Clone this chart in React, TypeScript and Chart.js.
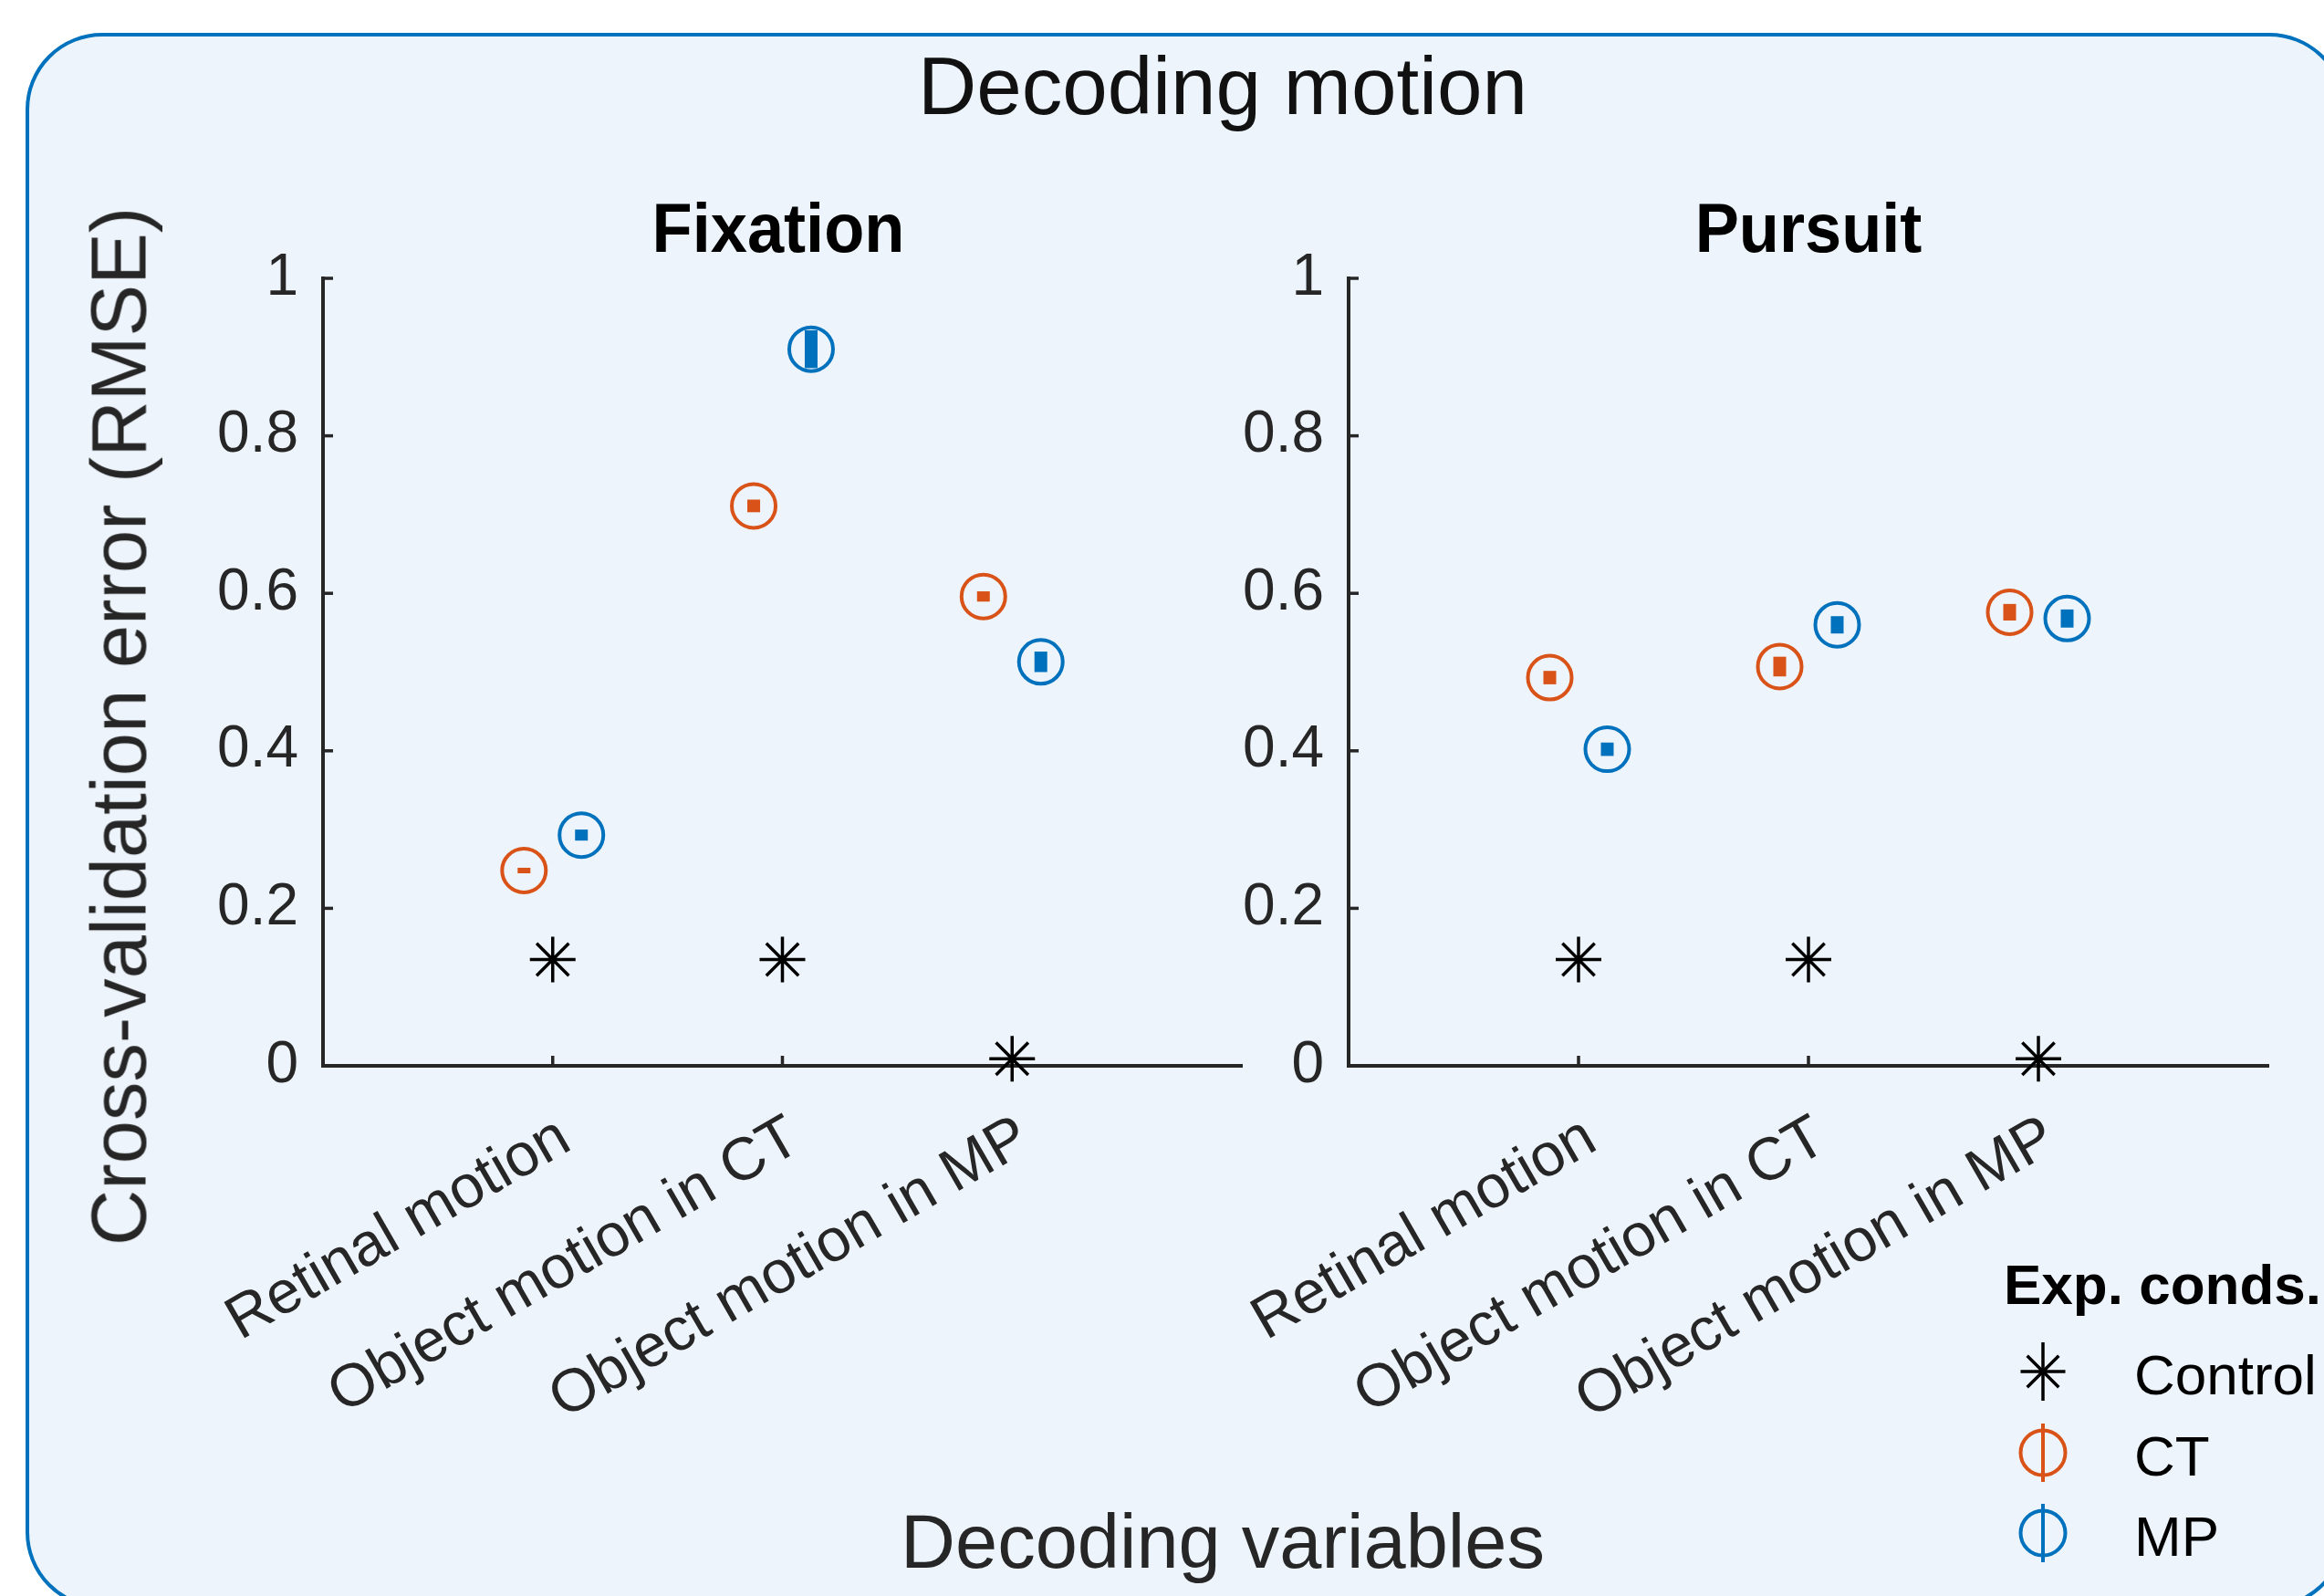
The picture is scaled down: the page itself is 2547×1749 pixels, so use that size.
import React, { useEffect, useRef } from 'react';
import { Chart, registerables } from 'chart.js';

Chart.register(...registerables);

// ---------------- data ----------------
const categories = ['Retinal motion', 'Object motion in CT', 'Object motion in MP'];
const categoryPositions = [1, 2, 3];
const yTickValues = [0, 0.2, 0.4, 0.6, 0.8, 1];
const conditionLabels = ['Control', 'CT', 'MP'];
const legendTitle = 'Exp. conds.';
const groupOffset = 0.125;

const fixationControl = [0.135, 0.135, 0.009];
const fixationCT = [0.248, 0.711, 0.596];
const fixationCTErr = [0.0035, 0.008, 0.0065];
const fixationMP = [0.293, 0.910, 0.513];
const fixationMPErr = [0.007, 0.024, 0.013];

const pursuitControl = [0.135, 0.135, 0.009];
const pursuitCT = [0.493, 0.507, 0.576];
const pursuitCTErr = [0.0085, 0.0125, 0.0105];
const pursuitMP = [0.402, 0.560, 0.568];
const pursuitMPErr = [0.0085, 0.011, 0.0115];

// ---------------- style ----------------
const FONT = '"Liberation Sans", Arial, Helvetica, sans-serif';
const INK = '#262626';
const ORANGE = '#D95319';
const BLUE = '#0072BD';
const BG = '#EEF4FB';
const Y_TICK_FONT = 64;
const X_TICK_FONT = 66;

function makeDatasets(control: number[], ct: number[], ctErr: number[], mp: number[], mpErr: number[]) {
  return [
    {
      label: conditionLabels[0],
      data: control.map((v, i) => ({ x: categoryPositions[i], y: v })),
      pointStyle: 'star',
      pointRadius: 25,
      pointBorderWidth: 3.5,
      pointBorderColor: '#000000',
      pointBackgroundColor: '#000000',
      borderColor: '#000000',
      showLine: false,
      clip: false,
    },
    {
      label: conditionLabels[1],
      data: ct.map((v, i) => ({ x: categoryPositions[i] - groupOffset, y: v })),
      errors: ctErr,
      pointStyle: 'circle',
      pointRadius: 24,
      pointBorderWidth: 4,
      pointBorderColor: ORANGE,
      pointBackgroundColor: 'rgba(0,0,0,0)',
      borderColor: ORANGE,
      showLine: false,
      clip: false,
    },
    {
      label: conditionLabels[2],
      data: mp.map((v, i) => ({ x: categoryPositions[i] + groupOffset, y: v })),
      errors: mpErr,
      pointStyle: 'circle',
      pointRadius: 24,
      pointBorderWidth: 4,
      pointBorderColor: BLUE,
      pointBackgroundColor: 'rgba(0,0,0,0)',
      borderColor: BLUE,
      showLine: false,
      clip: false,
    },
  ];
}

const errorBarPlugin = {
  id: 'errorBars',
  afterDatasetsDraw(chart: any) {
    const { ctx } = chart;
    const yScale = chart.scales.y;
    chart.data.datasets.forEach((ds: any, di: number) => {
      if (!ds.errors) return;
      const meta = chart.getDatasetMeta(di);
      meta.data.forEach((pt: any, i: number) => {
        const v = ds.data[i].y;
        const e = ds.errors[i];
        const top = yScale.getPixelForValue(v + e);
        const bot = yScale.getPixelForValue(v - e);
        ctx.save();
        ctx.fillStyle = ds.borderColor;
        ctx.fillRect(pt.x - 7, top, 14, Math.max(bot - top, 2));
        ctx.restore();
      });
    });
  },
};

const inwardTicksPlugin = {
  id: 'inwardTicks',
  beforeDatasetsDraw(chart: any) {
    const { ctx, chartArea, scales } = chart;
    ctx.save();
    ctx.strokeStyle = INK;
    ctx.lineWidth = 3.5;
    scales.y.ticks.forEach((t: any) => {
      const y = scales.y.getPixelForValue(t.value);
      ctx.beginPath();
      ctx.moveTo(chartArea.left, y);
      ctx.lineTo(chartArea.left + 11, y);
      ctx.stroke();
    });
    scales.x.ticks.forEach((t: any) => {
      const x = scales.x.getPixelForValue(t.value);
      ctx.beginPath();
      ctx.moveTo(x, chartArea.bottom);
      ctx.lineTo(x, chartArea.bottom - 11);
      ctx.stroke();
    });
    ctx.restore();
  },
};

const legendPlugin = {
  id: 'expLegend',
  afterDraw(chart: any) {
    const o = chart.options.plugins.expLegend;
    if (!o || !o.show) return;
    const { ctx } = chart;
    const fs = 62;
    ctx.save();
    ctx.textAlign = 'left';
    ctx.textBaseline = 'alphabetic';
    ctx.fillStyle = '#000';
    ctx.font = `bold ${fs}px ${FONT}`;
    ctx.fillText(legendTitle, o.titleX, o.titleY + 0.358 * fs);
    chart.data.datasets.forEach((ds: any, i: number) => {
      const cx = o.iconX;
      const cy = o.rowY[i];
      const col = ds.pointBorderColor;
      ctx.strokeStyle = col;
      ctx.lineWidth = ds.pointStyle === 'star' ? 3.5 : 4;
      ctx.beginPath();
      ctx.moveTo(cx, cy - 32);
      ctx.lineTo(cx, cy + 32);
      ctx.stroke();
      if (ds.pointStyle === 'star') {
        const r = 24.5;
        const d = r * Math.SQRT1_2;
        ctx.beginPath();
        ctx.moveTo(cx - r, cy);
        ctx.lineTo(cx + r, cy);
        ctx.moveTo(cx - d, cy - d);
        ctx.lineTo(cx + d, cy + d);
        ctx.moveTo(cx - d, cy + d);
        ctx.lineTo(cx + d, cy - d);
        ctx.stroke();
      } else {
        ctx.beginPath();
        ctx.arc(cx, cy, 24.5, 0, Math.PI * 2);
        ctx.stroke();
      }
      ctx.fillStyle = '#000';
      ctx.font = `${fs}px ${FONT}`;
      ctx.fillText(ds.label, o.textX, cy + 3 + 0.358 * fs);
    });
    ctx.restore();
  },
};

type PanelSpec = {
  title: string;
  control: number[];
  ct: number[];
  ctErr: number[];
  mp: number[];
  mpErr: number[];
  left: number;
  top: number;
  width: number;
  height: number;
  yAxisWidth: number;
  xAxisHeight: number;
  padTop: number;
  padRight: number;
  legend: boolean;
};

const panels: PanelSpec[] = [
  {
    title: 'Fixation',
    control: fixationControl, ct: fixationCT, ctErr: fixationCTErr, mp: fixationMP, mpErr: fixationMPErr,
    left: 94, top: 235, width: 1306, height: 1514,
    yAxisWidth: 260, xAxisHeight: 581, padTop: 70, padRight: 39, legend: false,
  },
  {
    title: 'Pursuit',
    control: pursuitControl, ct: pursuitCT, ctErr: pursuitCTErr, mp: pursuitMP, mpErr: pursuitMPErr,
    left: 1218, top: 235, width: 1329, height: 1514,
    yAxisWidth: 260, xAxisHeight: 581, padTop: 70, padRight: 61, legend: true,
  },
];

function Panel({ p }: { p: PanelSpec }) {
  const ref = useRef<HTMLCanvasElement | null>(null);
  useEffect(() => {
    if (!ref.current) return;
    const chart = new Chart(ref.current, {
      type: 'scatter',
      data: { datasets: makeDatasets(p.control, p.ct, p.ctErr, p.mp, p.mpErr) as any },
      options: {
        animation: false,
        responsive: false,
        maintainAspectRatio: false,
        events: [],
        layout: { padding: { top: p.padTop, right: p.padRight, left: 0, bottom: 0 } },
        plugins: {
          legend: { display: false },
          tooltip: { enabled: false },
          title: { display: false },
          expLegend: {
            show: p.legend,
            titleX: 2196 - p.left,
            titleY: 1407 - p.top,
            iconX: 2239 - p.left,
            textX: 2339 - p.left,
            rowY: [1503 - p.top, 1592 - p.top, 1680 - p.top],
          },
        } as any,
        scales: {
          x: {
            type: 'linear',
            min: 0,
            max: 4,
            bounds: 'data',
            afterBuildTicks: (s: any) => {
              s.ticks = categoryPositions.map((v) => ({ value: v }));
            },
            afterFit: (s: any) => {
              s.height = p.xAxisHeight;
            },
            grid: { display: false, drawTicks: false },
            border: { display: true, color: INK, width: 4 },
            ticks: {
              autoSkip: false,
              minRotation: 30,
              maxRotation: 30,
              padding: 40,
              labelOffset: 14,
              color: INK,
              font: { family: FONT, size: X_TICK_FONT },
              callback: (v: any) => {
                const idx = categoryPositions.indexOf(Number(v));
                return idx >= 0 ? categories[idx] : '';
              },
            },
          },
          y: {
            type: 'linear',
            min: 0,
            max: 1,
            afterBuildTicks: (s: any) => {
              s.ticks = yTickValues.map((v) => ({ value: v }));
            },
            afterFit: (s: any) => {
              s.width = p.yAxisWidth;
            },
            grid: { display: false, drawTicks: false },
            border: { display: true, color: INK, width: 4 },
            ticks: {
              padding: 27,
              color: INK,
              font: { family: FONT, size: Y_TICK_FONT },
              callback: (v: any) => {
                const n = Number(v);
                if (n === 0) return '0';
                if (n === 1) return '1';
                return n.toFixed(1);
              },
            },
          },
        },
      } as any,
      plugins: [inwardTicksPlugin, errorBarPlugin, legendPlugin],
    });
    return () => chart.destroy();
  }, []);
  return (
    <canvas
      ref={ref}
      width={p.width}
      height={p.height}
      style={{ position: 'absolute', left: p.left, top: p.top, width: p.width, height: p.height }}
    />
  );
}

function Text({ text, x, capY, size, bold, color, rotate, squeeze }: { text: string; x: number; capY: number; size: number; bold?: boolean; color?: string; rotate?: boolean; squeeze?: number }) {
  if (rotate) {
    return (
      <div
        style={{
          position: 'absolute', left: x, top: capY, whiteSpace: 'nowrap', fontSize: size, lineHeight: 1,
          fontFamily: FONT, color: color || INK, fontWeight: bold ? 700 : 400,
          transform: 'translate(-50%, -50%) rotate(-90deg)',
        }}
      >
        {text}
      </div>
    );
  }
  return (
    <div
      style={{
        position: 'absolute', left: x, top: capY - 0.49 * size, whiteSpace: 'nowrap', fontSize: size, lineHeight: 1,
        fontFamily: FONT, color: color || INK, fontWeight: bold ? 700 : 400,
        transform: `translateX(-50%) scaleX(${squeeze || 1})`,
      }}
    >
      {text}
    </div>
  );
}

export default function App() {
  return (
    <div style={{ position: 'absolute', left: 0, top: 0, width: 2547, height: 1749, overflow: 'hidden', background: '#ffffff' }}>
      <div
        style={{
          position: 'absolute', left: 28, top: 36, width: 2543, height: 1727, boxSizing: 'border-box',
          border: `4px solid ${BLUE}`, borderRadius: 84, background: BG,
        }}
      />
      {panels.map((p) => (
        <Panel key={p.title} p={p} />
      ))}
      <Text text="Decoding motion" x={1340} capY={94} size={89} color="#111111" />
      <Text text="Fixation" x={853} capY={249} size={76} bold color="#000000" squeeze={0.95} />
      <Text text="Pursuit" x={1982} capY={249} size={76} bold color="#000000" squeeze={0.95} />
      <Text text="Cross-validation error (RMSE)" x={130} capY={796} size={85} rotate />
      <Text text="Decoding variables" x={1340} capY={1689} size={83} />
    </div>
  );
}
